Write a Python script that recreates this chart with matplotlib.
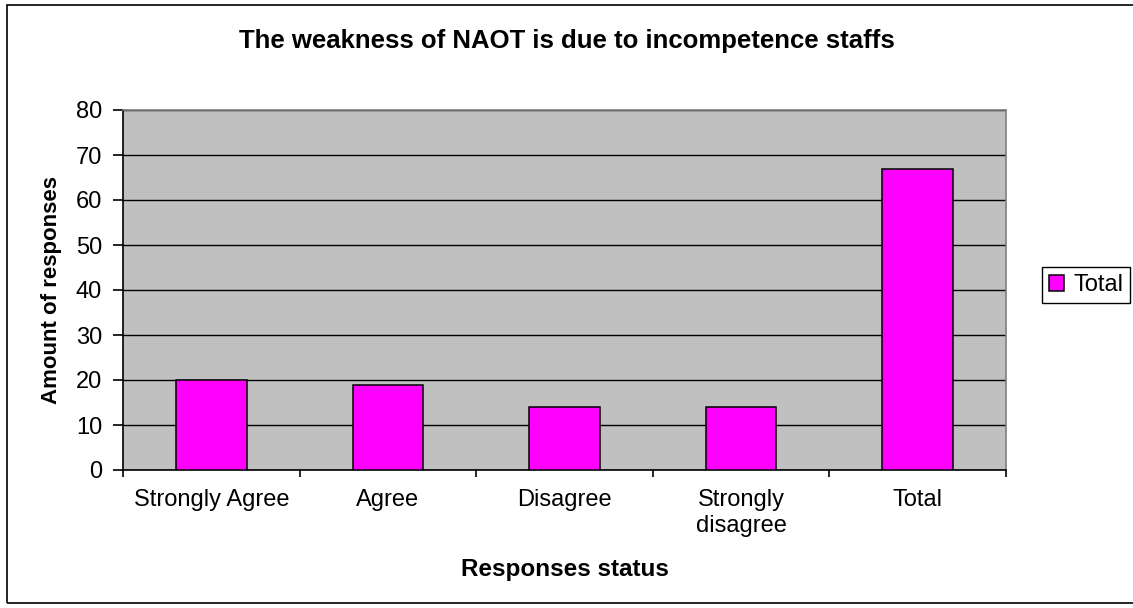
import matplotlib.pyplot as plt
from matplotlib.patches import Rectangle

categories = ["Strongly Agree", "Agree", "Disagree", "Strongly\ndisagree", "Total"]
totals = [20, 19, 14, 14, 67]
y_ticks = [0, 10, 20, 30, 40, 50, 60, 70, 80]

plt.rcParams['font.family'] = ['Liberation Sans', 'DejaVu Sans']

W, H = 1133, 608
fig = plt.figure(figsize=(W / 100, H / 100), dpi=100)
ax = fig.add_axes([123 / W, 1 - 470 / H, (1006 - 123) / W, (470 - 110) / H])

# outer chart border
fig.patches.append(Rectangle((7 / W, 5 / H), 1.0, 598 / H, transform=fig.transFigure,
                             fill=False, edgecolor='black', linewidth=1.2))

x = list(range(len(categories)))
ax.set_facecolor('#C0C0C0')
ax.bar(x, totals, width=0.4, color='#FF00FF', edgecolor='black', linewidth=1.1,
       label='Total', zorder=3)

ax.set_xlim(-0.5, len(categories) - 0.5)
ax.set_ylim(0, 80)
ax.set_yticks(y_ticks)
ax.yaxis.grid(True, color='black', linewidth=1.0, zorder=1)
ax.set_axisbelow(True)

ax.set_xticks(x)
ax.set_xticklabels(categories, fontsize=17, linespacing=1.2)
ax.set_xticks([i + 0.5 for i in range(-1, len(categories))], minor=True)
ax.tick_params(axis='x', which='major', length=0, pad=14)
ax.tick_params(axis='x', which='minor', length=5, width=1.2, direction='out')
ax.tick_params(axis='y', labelsize=17, length=7, width=1.2, direction='out', pad=8)

for s in ['left', 'bottom']:
    ax.spines[s].set_color('black')
    ax.spines[s].set_linewidth(1.2)
for s in ['top', 'right']:
    ax.spines[s].set_color('#808080')
    ax.spines[s].set_linewidth(1.2)

fig.text(0.5, 1 - 48 / H, "The weakness of NAOT is due to incompetence staffs",
         fontsize=18.5, fontweight='bold', ha='center', va='baseline')

ax.set_xlabel("Responses status", fontsize=17.5, fontweight='bold')
ax.xaxis.set_label_coords(0.5, (470 - 576) / 360)
ax.xaxis.label.set_verticalalignment('baseline')

ax.set_ylabel("Amount of responses", fontsize=16, fontweight='bold')
ax.yaxis.set_label_coords((52 - 123) / 883, 0.5)
ax.yaxis.label.set_verticalalignment('center')
ax.yaxis.label.set_horizontalalignment('center')

leg = fig.legend(*ax.get_legend_handles_labels(), loc='center left',
                 bbox_to_anchor=(1042 / W, 1 - 285 / H), fontsize=17,
                 fancybox=False, edgecolor='black', framealpha=1, borderpad=0.3,
                 borderaxespad=0, handlelength=0.64, handleheight=0.64,
                 handletextpad=0.38)
leg.get_frame().set_linewidth(1.0)

fig.savefig("out.png", dpi=100)
